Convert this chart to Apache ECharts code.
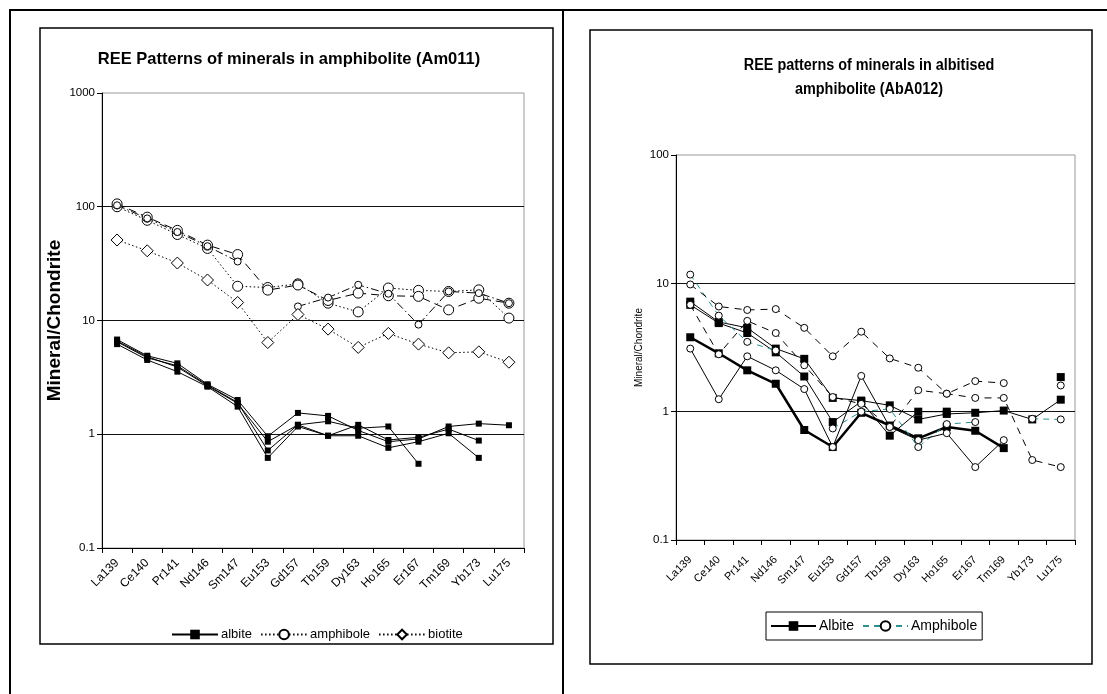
<!DOCTYPE html>
<html><head><meta charset="utf-8">
<script src="https://cdn.jsdelivr.net/npm/echarts@6/dist/echarts.min.js"></script>
<style>html,body{margin:0;padding:0;background:#fff}#c{width:1107px;height:694px}</style>
</head><body><div id="c"></div>
<script>
// ---------- data ----------
const categories = ['La139','Ce140','Pr141','Nd146','Sm147','Eu153','Gd157','Tb159','Dy163','Ho165','Er167','Tm169','Yb173','Lu175'];
const leftYTicks = ['0.1','1','10','100','1000'];
const rightYTicks = ['0.1','1','10','100'];

// Left chart (Am011)
const albite1 = [6.8, 4.9, 4.2, 2.75, 2.0, 0.96, 1.54, 1.45, 1.08, 0.86, 0.91, 1.17, 1.24, 1.2];
const albite2 = [6.5, 4.7, 4.0, 2.7, 1.9, 0.72, 1.21, 1.30, 1.13, 1.17, 0.55, null, null, null];
const albite3 = [6.2, 4.5, 3.55, 2.62, 1.75, 0.62, 1.17, 0.97, 1.21, 0.89, 0.94, 1.11, 0.88, null];
const albite4 = [6.6, 4.8, 3.9, 2.66, 1.87, 0.86, 1.21, 0.97, 0.97, 0.76, 0.86, 1.02, 0.62, null];
const amphA = [100, 76, 57, 43, 20, 19.5, 21, 14.2, 11.9, 19.3, 18.4, 18.0, 18.6, 10.5];
const amphB = [106, 81, 62, 46, 38, 18.5, 20.5, 15.0, 17.4, 16.5, 16.3, 12.4, 15.7, 14.2];
const amphC = [103, 79, 60, 45, 33, null, 13.3, 15.9, 20.6, 17.2, 9.2, 18.0, 17.4, 14.2];
const biotite = [51, 41, 32, 22.7, 14.4, 6.4, 11.3, 8.4, 5.8, 7.7, 6.2, 5.2, 5.3, 4.3];

// Right chart (AbA012)
const rAmphTeal = [11.7, 5.6, 3.5, 3.0, null, 0.74, 1.0, 1.05, 0.53, 0.8, 0.83, null, 0.88, 0.87];
const rAmphDash1 = [9.8, 6.6, 6.2, 6.3, 4.5, 2.7, 4.2, 2.6, 2.2, 1.38, 1.28, 1.28, 0.42, 0.37];
const rAmphDash2 = [6.8, 2.8, 5.1, 4.1, 2.3, 1.3, 1.15, 0.76, 1.47, 1.38, 1.73, 1.67, null, 1.6];
const rAmphSolid = [3.1, 1.25, 2.7, 2.1, 1.5, 0.53, 1.9, 0.76, 0.6, 0.68, 0.37, 0.6, null, null];
const rAlbite1 = [7.2, 5.0, 4.5, 3.1, 2.58, 1.28, 1.22, 1.12, 0.87, 0.96, 0.98, 1.02, 0.87, 1.24];
const rAlbite2 = [6.8, 4.9, 4.1, 2.9, 1.88, 0.83, 1.2, 0.65, 1.0, 1.0, null, null, null, 1.86];
const rAlbite3 = [3.8, 2.85, 2.1, 1.65, 0.72, 0.53, 0.98, 0.78, 0.62, 0.76, 0.71, 0.52, null, null];

const leftTitle = 'REE Patterns of minerals in amphibolite (Am011)';
const rightTitle = ['REE patterns of minerals in albitised', 'amphibolite (AbA012)'];

// ---------- chart ----------
const sans = "'Liberation Sans',Arial,sans-serif";
const fmt = v => String(+Number(v).toPrecision(6));

function ln(name, data, gi, o) {
  return {
    type: 'line', name, data, xAxisIndex: gi, yAxisIndex: gi,
    connectNulls: false, silent: true, animation: false,
    symbol: o.symbol, symbolSize: o.size, showAllSymbol: true,
    itemStyle: { color: o.fill, borderColor: '#000', borderWidth: o.fill === '#000' ? 0 : 1 },
    lineStyle: { color: o.color || '#000', width: o.width || 1, type: o.type || 'solid' },
    z: o.z || 2
  };
}

const chart = echarts.init(document.getElementById('c'), null, { renderer: 'canvas' });

function xAx(gi, size, margin) {
  return {
    type: 'category', gridIndex: gi, data: categories, boundaryGap: true,
    axisLine: { show: true, lineStyle: { color: '#000', width: 1 } },
    axisTick: { show: true, alignWithLabel: false, length: 5, lineStyle: { color: '#000' } },
    axisLabel: { interval: 0, rotate: 45, fontFamily: sans, fontSize: size, color: '#000', margin: margin },
    splitLine: { show: false }
  };
}
function yAx(gi, max, size, nameSize, nameWeight, nameGap) {
  return {
    type: 'log', logBase: 10, gridIndex: gi, min: 0.1, max: max,
    axisLine: { show: true, lineStyle: { color: '#000', width: 1 } },
    axisTick: { show: true, inside: false, length: 5, lineStyle: { color: '#000' } },
    minorTick: { show: false },
    axisLabel: { fontFamily: sans, fontSize: size, color: '#000', margin: 7, formatter: fmt },
    splitLine: { show: true, showMinLine: false, showMaxLine: false, lineStyle: { color: '#111', width: 1 } },
    name: 'Mineral/Chondrite', nameLocation: 'middle', nameGap: nameGap,
    nameTextStyle: { fontFamily: sans, fontSize: nameSize, fontWeight: nameWeight, color: '#000' }
  };
}

const option = {
  backgroundColor: '#fff',
  animation: false,
  title: [
    { text: leftTitle, left: 284, top: 46, textAlign: 'center',
      textStyle: { fontFamily: sans, fontSize: 16.5, fontWeight: 'bold', color: '#000' } }
  ],
  legend: [
    { left: 166, top: 623, itemWidth: 46, itemHeight: 12, itemGap: 8, selectedMode: false,
      data: ['albite', 'amphibole', 'biotite'],
      textStyle: { fontFamily: sans, fontSize: 13, color: '#000', padding: [0, 0, 0, -2] } },
    { left: 766, top: 612, itemWidth: 45, itemHeight: 12, itemGap: 8, selectedMode: false,
      padding: [7, 5, 7, 4], borderColor: '#000', borderWidth: 1,
      data: ['Albite', 'Amphibole'],
      textStyle: { fontFamily: sans, fontSize: 14, color: '#000', padding: [0, 0, 0, -2] } }
  ],
  grid: [
    { left: 102, top: 93, width: 422, height: 455, show: true, borderColor: '#999', borderWidth: 1, backgroundColor: 'transparent' },
    { left: 676, top: 155, width: 399, height: 385, show: true, borderColor: '#999', borderWidth: 1, backgroundColor: 'transparent' }
  ],
  xAxis: [ xAx(0, 12, 13), xAx(1, 11, 18) ],
  yAxis: [ yAx(0, 1000, 11.5, 19, 'bold', 38), yAx(1, 100, 11.5, 10, 'normal', 32) ],
  graphic: [
    { type: 'rect', shape: { x: 10, y: 10, width: 1110, height: 700 }, style: { fill: 'none', stroke: '#000', lineWidth: 2 }, silent: true },
    { type: 'line', shape: { x1: 563, y1: 10, x2: 563, y2: 694 }, style: { stroke: '#000', lineWidth: 2 }, silent: true },
    { type: 'rect', shape: { x: 40, y: 28, width: 513, height: 616 }, style: { fill: 'none', stroke: '#000', lineWidth: 1.5 }, silent: true },
    { type: 'rect', shape: { x: 590, y: 30, width: 502, height: 634 }, style: { fill: 'none', stroke: '#000', lineWidth: 1.5 }, silent: true },
    { type: 'text', x: 869, y: 66, scaleX: 0.9, silent: true,
      style: { text: rightTitle[0], fontFamily: sans, fontSize: 16, fontWeight: 'bold', fill: '#000', align: 'center', verticalAlign: 'middle' } },
    { type: 'text', x: 869, y: 90, scaleX: 0.9, silent: true,
      style: { text: rightTitle[1], fontFamily: sans, fontSize: 16, fontWeight: 'bold', fill: '#000', align: 'center', verticalAlign: 'middle' } }
  ],
  series: [
    ln('albite', albite1, 0, { symbol: 'rect', size: 6, fill: '#000' }),
    ln('albite', albite2, 0, { symbol: 'rect', size: 6, fill: '#000' }),
    ln('albite', albite3, 0, { symbol: 'rect', size: 6, fill: '#000' }),
    ln('albite', albite4, 0, { symbol: 'rect', size: 6, fill: '#000' }),
    ln('amphibole', amphA, 0, { symbol: 'circle', size: 10, fill: '#fff', type: [1.5, 2.5] }),
    ln('amphibole', amphB, 0, { symbol: 'circle', size: 10, fill: '#fff', type: [8, 5] }),
    ln('amphibole', amphC, 0, { symbol: 'circle', size: 7, fill: '#fff', type: [8, 3, 1.5, 3] }),
    ln('biotite', biotite, 0, { symbol: 'diamond', size: 12, fill: '#fff', type: [1.5, 2.5] }),

    ln('Albite', rAlbite1, 1, { symbol: 'rect', size: 8, fill: '#000' }),
    ln('Albite', rAlbite2, 1, { symbol: 'rect', size: 8, fill: '#000' }),
    ln('Albite', rAlbite3, 1, { symbol: 'rect', size: 8, fill: '#000', width: 2.5 }),
    ln('Amphibole', rAmphTeal, 1, { symbol: 'circle', size: 7, fill: '#fff', color: '#2f9090', type: [6, 5], z: 3 }),
    ln('Amphibole', rAmphDash1, 1, { symbol: 'circle', size: 7, fill: '#fff', type: [7, 6], z: 3 }),
    ln('Amphibole', rAmphDash2, 1, { symbol: 'circle', size: 7, fill: '#fff', type: [7, 6], z: 3 }),
    ln('Amphibole', rAmphSolid, 1, { symbol: 'circle', size: 7, fill: '#fff', z: 3 })
  ]
};
chart.setOption(option);
</script>
</body></html>
